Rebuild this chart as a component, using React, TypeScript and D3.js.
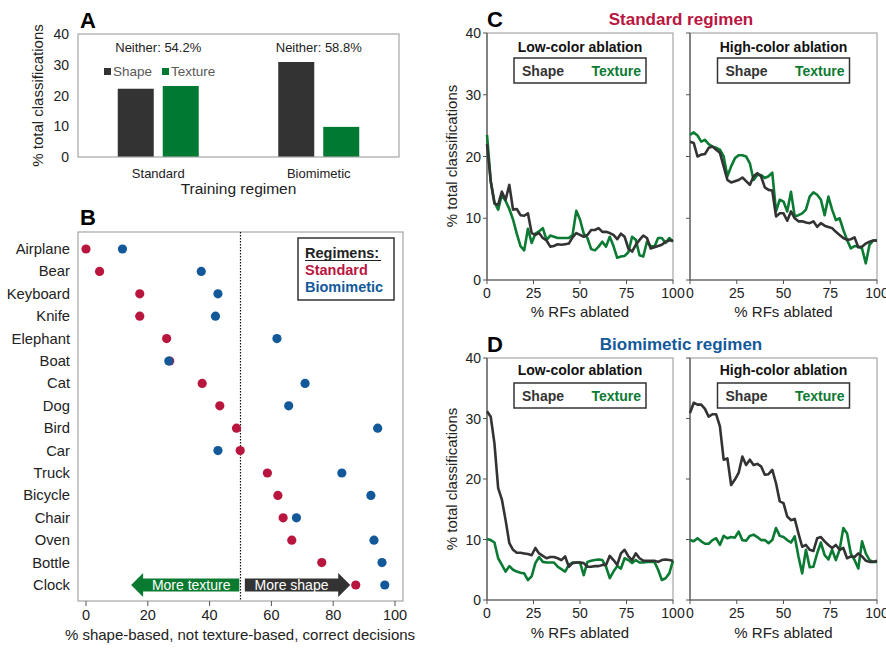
import React from "react";
import * as d3 from "d3";

const FONT = "'Liberation Sans', Arial, sans-serif";
const DARK = "#333333";
const GREEN = "#0b7a32";
const RED = "#b8163f";
const BLUE = "#13599a";

// Panel A
const regimens = ["Standard", "Biomimetic"];
const shapeBars = [22.2, 30.9];
const textureBars = [23.1, 9.8];
const neitherLabels = ["Neither: 54.2%", "Neither: 58.8%"];
const aTicks = [0, 10, 20, 30, 40];

// Panel B
const categories = ["Airplane", "Bear", "Keyboard", "Knife", "Elephant", "Boat", "Cat", "Dog", "Bird", "Car", "Truck", "Bicycle", "Chair", "Oven", "Bottle", "Clock"];
const standardVals = [0, 4.4, 17.4, 17.4, 26.1, 27.1, 37.6, 43.3, 48.7, 49.9, 58.7, 62.1, 63.8, 66.6, 76.3, 87.3];
const biomimeticVals = [11.8, 37.3, 42.7, 41.9, 61.8, 26.8, 70.9, 65.6, 94.4, 42.7, 82.8, 92.2, 68.1, 93.2, 95.8, 96.7];
const bTicks = [0, 20, 40, 60, 80, 100];

// Panels C & D (x = 0,2,...,100 % RFs ablated)
const ablated = d3.range(0, 101, 2);
const cLowShape = [22, 16, 12.4, 12.2, 14.3, 13, 15.4, 11.4, 11.5, 10.5, 10.4, 10.8, 7.6, 7.3, 7.6, 6.8, 6.4, 5.4, 5.5, 5.8, 5.7, 5.8, 5.9, 6.9, 7.6, 7.3, 7.0, 7.3, 8.1, 8.1, 8.4, 7.8, 7.8, 7.6, 7.3, 6.6, 7.5, 7.0, 5.1, 4.6, 5.7, 6.5, 7.2, 6.8, 5.1, 5.3, 5.5, 5.7, 6.2, 6.4, 6.4];
const cLowTexture = [23.5, 16, 12.6, 11.4, 13.8, 12.8, 11.5, 9.8, 7.5, 5.5, 4.8, 8.3, 6.0, 7.5, 7.9, 8.4, 6.5, 7.2, 7.0, 6.8, 6.8, 6.8, 6.8, 7.3, 11.2, 9.8, 7.5, 6.8, 5.0, 4.8, 5.4, 6.2, 5.4, 7.0, 5.5, 3.6, 3.8, 3.9, 4.5, 7.0, 6.5, 4.0, 3.8, 6.2, 5.5, 5.4, 6.8, 6.8, 6.0, 6.8, 6.2];
const cHighShape = [22.4, 22.2, 20, 20.3, 20.4, 21.4, 21.6, 21.1, 20.6, 18.4, 16.2, 15.8, 16, 16.2, 16.6, 16, 15.4, 16.8, 17.3, 16.8, 15, 14.6, 14.5, 10.3, 10.8, 10.8, 9.6, 11.1, 10, 9.5, 9.5, 9.3, 9.2, 9.5, 8.6, 9.2, 8.8, 8.6, 8.4, 7.8, 7.3, 6.8, 6.5, 6.6, 6.9, 5.3, 5.4, 5.9, 6.2, 6.4, 6.4];
const cHighTexture = [23.5, 23.9, 23.4, 22.4, 22.7, 22, 21.6, 21.4, 21.1, 20, 16.8, 18.4, 19.7, 20.2, 20.2, 20, 18.9, 16.2, 17, 17, 16.5, 16.8, 17.4, 11.1, 13, 12.7, 11.1, 14.3, 10.3, 10.5, 10.8, 11.4, 13.5, 14.2, 13.8, 13, 10.5, 13.5, 11.4, 9.7, 10, 8.1, 6.5, 5.1, 5.5, 5.4, 5.1, 2.7, 5.7, 6.4, 6.4];
const dLowShape = [31.2, 30.3, 25.9, 18.5, 16.6, 13.2, 9.4, 8.3, 7.8, 7.8, 7.7, 7.6, 7.4, 8.6, 7.7, 7.3, 6.9, 7.1, 7.1, 6.9, 6.6, 7.2, 5.5, 6.1, 6.2, 6.2, 6.1, 5.5, 5.5, 5.6, 5.6, 5.8, 5.8, 7.3, 6.6, 5.8, 7.7, 8.3, 7.2, 6.6, 7.7, 6.9, 6.5, 6.5, 6.5, 6.5, 6.3, 6.6, 6.7, 6.6, 6.5];
const dLowTexture = [10.1, 9.9, 9.5, 6.9, 5.8, 4.7, 5.6, 5.0, 4.7, 4.5, 4.4, 3.3, 3.9, 6.1, 7.1, 6.3, 6.2, 6.2, 6.2, 5.5, 5.1, 4.7, 5.8, 6.2, 6.2, 6.2, 4.1, 6.3, 6.5, 6.6, 6.7, 6.6, 5.5, 3.6, 4.7, 5.6, 5.2, 6.9, 6.6, 6.1, 6.6, 6.2, 6.2, 6.3, 6.3, 6.3, 5.0, 3.3, 3.6, 4.4, 6.5];
const dHighShape = [30.9, 32.6, 32.3, 32.3, 31.6, 30.3, 30.7, 30.7, 28.7, 23.2, 23.4, 19, 19.9, 21, 23.7, 22.3, 23.2, 22.3, 22.5, 22.1, 20.7, 20.8, 21.5, 19.3, 16.3, 16, 13.8, 13.2, 13.4, 11, 8.8, 9.1, 8.3, 8.1, 10.2, 10.4, 9.7, 9.1, 8.6, 9.1, 8.3, 8.6, 6.9, 7.2, 7.1, 7.7, 7.2, 6.5, 6.3, 6.3, 6.5];
const dHighTexture = [9.9, 9.7, 10.2, 9.7, 9.3, 9.3, 9.9, 10.2, 9.1, 10.6, 10.2, 10.4, 10.3, 11.3, 9.9, 9.8, 10.6, 10.8, 10.4, 9.9, 9.9, 9.4, 9.9, 11.9, 10.6, 10.4, 9.9, 9.5, 10.5, 7.2, 4.4, 8.3, 5.4, 5.5, 7.7, 9.5, 7.4, 6.7, 8.3, 6.6, 8.3, 11.9, 11, 7.7, 6.6, 5.2, 9.7, 7.7, 6.6, 6.3, 6.3];
const lineYTicks = [0, 10, 20, 30, 40];
const lineXTicks = [0, 25, 50, 75, 100];

function PanelA() {
  const L = 78, R = 399, T = 34, B = 157;
  const x = d3.scaleBand().domain(regimens).range([L, R]);
  const y = d3.scaleLinear().domain([0, 40]).range([B, T]);
  const bw = 36, gap = 9;
  return (
    <g fontFamily={FONT}>
      <text x={80} y={28} fontSize={22} fontWeight="bold">A</text>
      {aTicks.map(t => (
        <text key={t} x={69} y={y(t) + 5} fontSize={14} textAnchor="end" fill="#222">{t}</text>
      ))}
      <text transform={`translate(43,${(T + B) / 2}) rotate(-90)`} fontSize={15} textAnchor="middle" fill="#222">% total classifications</text>
      {regimens.map((r, i) => {
        const c = x(r)! + x.bandwidth() / 2;
        return (
          <g key={r}>
            <rect x={c - gap / 2 - bw} y={y(shapeBars[i])} width={bw} height={B - y(shapeBars[i])} fill={DARK} />
            <rect x={c + gap / 2} y={y(textureBars[i])} width={bw} height={B - y(textureBars[i])} fill="#007a33" />
            <text x={c} y={52} fontSize={13} textAnchor="middle" fill="#222">{neitherLabels[i]}</text>
            <text x={c} y={178} fontSize={13} textAnchor="middle" fill="#222">{r}</text>
          </g>
        );
      })}
      <rect x={L} y={T} width={R - L} height={B - T} fill="none" stroke="#a6a6a6" strokeWidth={1.2} />
      <rect x={104} y={68} width={7} height={7} fill={DARK} />
      <text x={113} y={76} fontSize={13.5} fill="#595959">Shape</text>
      <rect x={162} y={68} width={7} height={7} fill="#007a33" />
      <text x={171} y={76} fontSize={13.5} fill="#595959">Texture</text>
      <text x={(L + R) / 2} y={194} fontSize={15.5} textAnchor="middle" fill="#222">Training regimen</text>
    </g>
  );
}

function PanelB() {
  const L = 78, R = 403, T = 232, B = 601;
  const x = d3.scaleLinear().domain([0, 100]).range([86, 395]);
  const y = d3.scalePoint().domain(categories).range([249, 585]);
  const ay = 585;
  const gx0 = x(49.6), gx1 = x(14.6);
  const kx0 = x(51.4), kx1 = x(85.5);
  return (
    <g fontFamily={FONT}>
      <text x={80} y={225} fontSize={22} fontWeight="bold">B</text>
      <rect x={L} y={T} width={R - L} height={B - T} fill="none" stroke="#a6a6a6" strokeWidth={1.2} />
      {bTicks.map(t => (
        <g key={t}>
          <line x1={x(t)} x2={x(t)} y1={B} y2={B + 5} stroke="#555" />
          <text x={x(t)} y={620} fontSize={14.5} textAnchor="middle" fill="#222">{t}</text>
        </g>
      ))}
      <text x={240} y={640} fontSize={15} textAnchor="middle" fill="#222">% shape-based, not texture-based, correct decisions</text>
      {categories.map(c => (
        <text key={c} x={70} y={y(c)! + 5} fontSize={14.8} textAnchor="end" fill="#222">{c}</text>
      ))}
      <polygon points={`${gx0},${ay - 6.5} ${gx1 + 12},${ay - 6.5} ${gx1 + 12},${ay - 12} ${gx1},${ay} ${gx1 + 12},${ay + 12} ${gx1 + 12},${ay + 6.5} ${gx0},${ay + 6.5}`} fill="#0a7a30" />
      <text x={(gx0 + gx1 + 12) / 2} y={ay + 5} fontSize={14} textAnchor="middle" fill="#fff">More texture</text>
      <polygon points={`${kx0},${ay - 6.5} ${kx1 - 12},${ay - 6.5} ${kx1 - 12},${ay - 12} ${kx1},${ay} ${kx1 - 12},${ay + 12} ${kx1 - 12},${ay + 6.5} ${kx0},${ay + 6.5}`} fill="#333" />
      <text x={(kx0 + kx1 - 12) / 2} y={ay + 5} fontSize={14} textAnchor="middle" fill="#fff">More shape</text>
      <line x1={x(50)} x2={x(50)} y1={T} y2={B} stroke="#111" strokeWidth={1.2} strokeDasharray="1.5,1.5" />
      {categories.map((c, i) => (
        <circle key={"s" + c} cx={x(standardVals[i])} cy={y(c)!} r={4.6} fill={RED} />
      ))}
      {categories.map((c, i) => (
        <circle key={"b" + c} cx={x(biomimeticVals[i])} cy={y(c)!} r={4.6} fill={BLUE} />
      ))}
      <rect x={298} y={238} width={96} height={62} fill="#fff" stroke="#333" strokeWidth={1.5} />
      <text x={305} y={258} fontSize={14.5} fontWeight="bold" fill="#222">Regimens:</text>
      <line x1={305} x2={381} y1={260.5} y2={260.5} stroke="#222" strokeWidth={1} />
      <text x={305} y={275} fontSize={14.5} fontWeight="bold" fill={RED}>Standard</text>
      <text x={305} y={292} fontSize={14.5} fontWeight="bold" fill={BLUE}>Biomimetic</text>
    </g>
  );
}

function LinePanel(props: { L: number; R: number; T: number; B: number; title: string; shape: number[]; texture: number[]; showY: boolean; titleY: number; boxY: number; tickY: number; labelY: number }) {
  const { L, R, T, B, title, shape, texture, showY, titleY, boxY, tickY, labelY } = props;
  const x = d3.scaleLinear().domain([0, 100]).range([L, R]);
  const y = d3.scaleLinear().domain([0, 40]).range([B, T]);
  const line = d3.line<number>().x((_, i) => x(ablated[i])).y(v => y(v));
  const cx = (L + R) / 2;
  return (
    <g fontFamily={FONT}>
      <rect x={L} y={T} width={R - L} height={B - T} fill="none" stroke="#a6a6a6" strokeWidth={1.2} />
      <line x1={L} x2={L} y1={T} y2={B} stroke="#555" strokeWidth={1.2} />
      <line x1={L} x2={R} y1={B} y2={B} stroke="#555" strokeWidth={1.2} />
      {lineYTicks.map(t => (
        <g key={t}>
          <line x1={L - 4} x2={L} y1={y(t)} y2={y(t)} stroke="#555" />
          {showY && <text x={L - 6} y={y(t) + 5} fontSize={14} textAnchor="end" fill="#222">{t}</text>}
        </g>
      ))}
      {lineXTicks.map(t => (
        <g key={t}>
          <line x1={x(t)} x2={x(t)} y1={B} y2={B + 4} stroke="#555" />
          <text x={x(t)} y={tickY} fontSize={14} textAnchor="middle" fill="#222">{t}</text>
        </g>
      ))}
      <text x={cx} y={labelY} fontSize={15} textAnchor="middle" fill="#222">% RFs ablated</text>
      <path d={line(texture) || ""} fill="none" stroke={GREEN} strokeWidth={2.6} strokeLinejoin="round" />
      <path d={line(shape) || ""} fill="none" stroke={DARK} strokeWidth={2.6} strokeLinejoin="round" />
      <text x={cx} y={titleY} fontSize={14} fontWeight="bold" textAnchor="middle" fill="#111">{title}</text>
      <rect x={cx - 66} y={boxY} width={132} height={25} fill="#fff" stroke="#333" strokeWidth={1.5} />
      <text x={cx - 58} y={boxY + 18} fontSize={14} fontWeight="bold" fill="#333">Shape</text>
      <text x={cx + 61} y={boxY + 18} fontSize={14} fontWeight="bold" textAnchor="end" fill={GREEN}>Texture</text>
    </g>
  );
}

export default function App() {
  return (
    <svg width={886} height={648} style={{ position: "absolute", left: 0, top: 0, background: "#fff" }}>
      <rect width={886} height={648} fill="#fff" />
      <PanelA />
      <PanelB />
      <g fontFamily={FONT}>
        <text x={487} y={27} fontSize={22} fontWeight="bold">C</text>
        <text x={681} y={25} fontSize={17} fontWeight="bold" textAnchor="middle" fill={RED}>Standard  regimen</text>
        <text transform={`translate(457,156) rotate(-90)`} fontSize={15} textAnchor="middle" fill="#222">% total classifications</text>
        <text x={487} y={352} fontSize={22} fontWeight="bold">D</text>
        <text x={681} y={350} fontSize={17} fontWeight="bold" textAnchor="middle" fill={BLUE}>Biomimetic  regimen</text>
        <text transform={`translate(457,479) rotate(-90)`} fontSize={15} textAnchor="middle" fill="#222">% total classifications</text>
      </g>
      <LinePanel L={487} R={673} T={33} B={280} title="Low-color ablation" shape={cLowShape} texture={cLowTexture} showY={true} titleY={52} boxY={58} tickY={298} labelY={317} />
      <LinePanel L={690} R={877} T={33} B={280} title="High-color ablation" shape={cHighShape} texture={cHighTexture} showY={false} titleY={52} boxY={58} tickY={298} labelY={317} />
      <LinePanel L={487} R={673} T={358} B={600} title="Low-color ablation" shape={dLowShape} texture={dLowTexture} showY={true} titleY={375} boxY={383} tickY={618} labelY={638} />
      <LinePanel L={690} R={877} T={358} B={600} title="High-color ablation" shape={dHighShape} texture={dHighTexture} showY={false} titleY={375} boxY={383} tickY={618} labelY={638} />
    </svg>
  );
}
